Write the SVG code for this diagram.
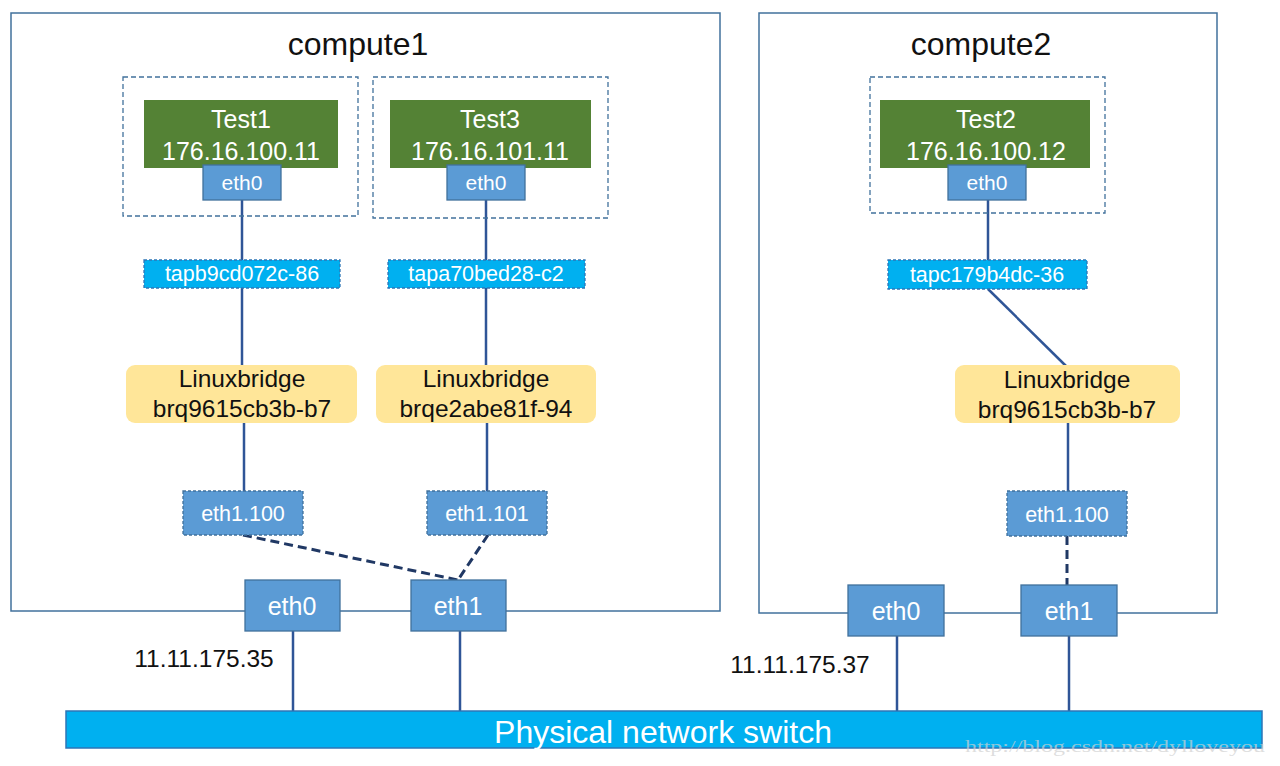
<svg xmlns="http://www.w3.org/2000/svg" width="1280" height="766" viewBox="0 0 1280 766">
<style>
text{font-family:"Liberation Sans",Arial,sans-serif;text-anchor:middle}
.host{fill:#fff;stroke:#41719C;stroke-width:1.5}
.vmbox{fill:none;stroke:#41719C;stroke-width:1.3;stroke-dasharray:5,3}
.vm{fill:#548235}
.nic{fill:#5B9BD5;stroke:#41719C;stroke-width:1.3}
.dnic{fill:#5B9BD5;stroke:#41719C;stroke-width:1.3;stroke-dasharray:3,2}
.tap{fill:#00B0F0;stroke:#2E75B6;stroke-width:1.3;stroke-dasharray:3,2}
.br{fill:#FFE699}
.w{fill:#fff}
.k{fill:#111}
.ln{stroke:#2F5597;stroke-width:2.5;fill:none}
.dl{stroke:#203864;stroke-width:3;fill:none;stroke-dasharray:9,5}
</style>
<rect width="1280" height="766" fill="#fff"/>
<g id="compute1">
<rect class="host" x="11" y="13" width="709" height="598"/>
<text x="358" y="55" font-size="32" class="k">compute1</text>
</g>
<g id="compute2">
<rect class="host" x="759" y="13" width="458" height="600"/>
<text x="981" y="55" font-size="32" class="k">compute2</text>
</g>
<g id="connectors">
<line class="ln" x1="242" y1="200" x2="242" y2="260"/>
<line class="ln" x1="242" y1="288" x2="242" y2="365"/>
<line class="ln" x1="244" y1="423" x2="244" y2="491"/>
<line class="ln" x1="486" y1="200" x2="486" y2="260"/>
<line class="ln" x1="486" y1="288" x2="486" y2="365"/>
<line class="ln" x1="487" y1="423" x2="487" y2="491"/>
<line class="ln" x1="988" y1="200" x2="988" y2="260"/>
<line class="ln" x1="988" y1="289" x2="1066" y2="366"/>
<line class="ln" x1="1068" y1="423" x2="1068" y2="491"/>
<line class="dl" x1="243" y1="535" x2="458" y2="580"/>
<line class="dl" x1="488" y1="535" x2="458" y2="580"/>
<line class="dl" x1="1067" y1="536" x2="1067" y2="585"/>
<line class="ln" x1="293" y1="631" x2="293" y2="711"/>
<line class="ln" x1="460" y1="631" x2="460" y2="711"/>
<line class="ln" x1="897" y1="636" x2="897" y2="711"/>
<line class="ln" x1="1069" y1="636" x2="1069" y2="711"/>
</g>
<g id="vm-test1">
<rect class="vmbox" x="123" y="77" width="235" height="139"/>
<rect class="vm" x="144" y="100" width="194" height="68"/>
<text x="241" y="128" font-size="25" class="w">Test1</text>
<text x="241" y="160" font-size="25" class="w">176.16.100.11</text>
</g>
<g id="test1-eth0">
<rect class="nic" x="203" y="165" width="78" height="35"/>
<text x="242" y="190" font-size="21" class="w">eth0</text>
</g>
<g id="vm-test3">
<rect class="vmbox" x="373" y="77" width="235" height="141"/>
<rect class="vm" x="390" y="100" width="201" height="68"/>
<text x="490" y="128" font-size="25" class="w">Test3</text>
<text x="490" y="160" font-size="25" class="w">176.16.101.11</text>
</g>
<g id="test3-eth0">
<rect class="nic" x="447" y="165" width="78" height="35"/>
<text x="486" y="190" font-size="21" class="w">eth0</text>
</g>
<g id="vm-test2">
<rect class="vmbox" x="870" y="77" width="235" height="136"/>
<rect class="vm" x="880" y="100" width="210" height="68"/>
<text x="986" y="128" font-size="25" class="w">Test2</text>
<text x="986" y="160" font-size="25" class="w">176.16.100.12</text>
</g>
<g id="test2-eth0">
<rect class="nic" x="948" y="165" width="78" height="35"/>
<text x="987" y="190" font-size="21" class="w">eth0</text>
</g>
<g id="tap1">
<rect class="tap" x="144" y="260" width="196" height="28"/>
<text x="242" y="281" font-size="21.5" class="w">tapb9cd072c-86</text>
</g>
<g id="tap3">
<rect class="tap" x="388" y="260" width="197" height="28"/>
<text x="486" y="281" font-size="21.5" class="w">tapa70bed28-c2</text>
</g>
<g id="tap2">
<rect class="tap" x="888" y="260" width="199" height="29"/>
<text x="987" y="282" font-size="21.5" class="w">tapc179b4dc-36</text>
</g>
<g id="bridge1">
<rect class="br" x="126" y="365" width="231" height="58" rx="9"/>
<text x="242" y="387" font-size="24.5" class="k">Linuxbridge</text>
<text x="242" y="417" font-size="24.5" class="k">brq9615cb3b-b7</text>
</g>
<g id="bridge3">
<rect class="br" x="376" y="365" width="220" height="58" rx="9"/>
<text x="486" y="387" font-size="24.5" class="k">Linuxbridge</text>
<text x="486" y="417" font-size="24.5" class="k">brqe2abe81f-94</text>
</g>
<g id="bridge2">
<rect class="br" x="955" y="365" width="225" height="58" rx="9"/>
<text x="1067" y="388" font-size="24.5" class="k">Linuxbridge</text>
<text x="1067" y="418" font-size="24.5" class="k">brq9615cb3b-b7</text>
</g>
<g id="vlan1-100">
<rect class="dnic" x="183" y="491" width="120" height="44"/>
<text x="243" y="521" font-size="21.5" class="w">eth1.100</text>
</g>
<g id="vlan1-101">
<rect class="dnic" x="427" y="491" width="120" height="44"/>
<text x="487" y="521" font-size="21.5" class="w">eth1.101</text>
</g>
<g id="vlan2-100">
<rect class="dnic" x="1007" y="491" width="120" height="45"/>
<text x="1067" y="522" font-size="21.5" class="w">eth1.100</text>
</g>
<g id="c1-eth0">
<rect class="nic" x="245" y="580" width="95" height="51"/>
<text x="292" y="615" font-size="25" class="w">eth0</text>
</g>
<g id="c1-eth1">
<rect class="nic" x="411" y="580" width="95" height="51"/>
<text x="458" y="615" font-size="25" class="w">eth1</text>
</g>
<g id="c2-eth0">
<rect class="nic" x="848" y="585" width="96" height="51"/>
<text x="896" y="620" font-size="25" class="w">eth0</text>
</g>
<g id="c2-eth1">
<rect class="nic" x="1021" y="585" width="96" height="51"/>
<text x="1069" y="620" font-size="25" class="w">eth1</text>
</g>
<text x="204" y="667" font-size="24.5" class="k">11.11.175.35</text>
<text x="800" y="673" font-size="24.5" class="k">11.11.175.37</text>
<g id="switch">
<rect x="66" y="711" width="1196" height="37" fill="#00B0F0" stroke="#2E75B6" stroke-width="1.5"/>
<text x="663" y="743" font-size="32" class="w">Physical network switch</text>
</g>
<text x="1115" y="752" font-size="17" fill="#d0d0d0" fill-opacity="0.7" style="font-family:'Liberation Serif',serif" textLength="300" lengthAdjust="spacingAndGlyphs">http://blog.csdn.net/dylloveyou</text>
</svg>
